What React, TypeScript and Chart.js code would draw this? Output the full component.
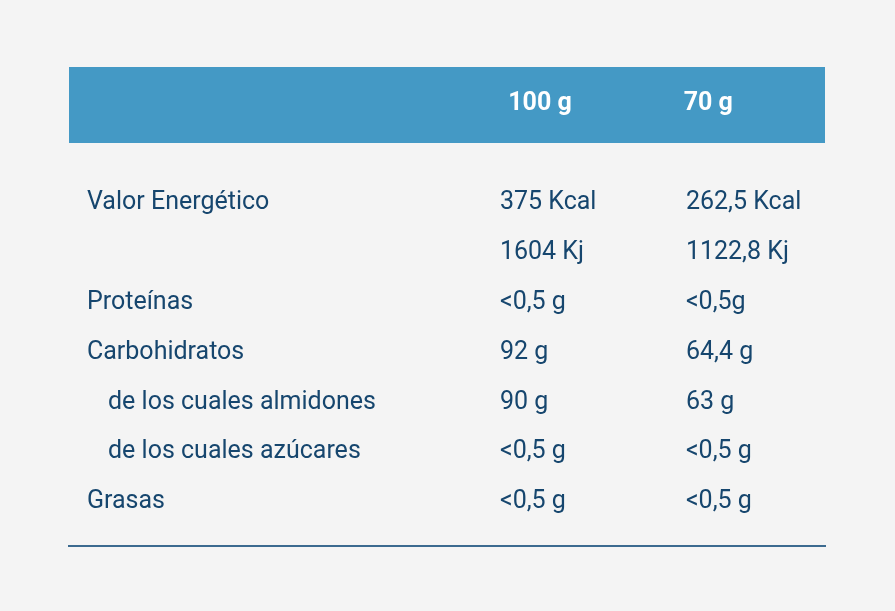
import React, { useEffect, useRef } from "react";
import { Chart, registerables } from "chart.js";

Chart.register(...registerables);

const headerLabels = ["100 g", "70 g"];
const rowLabels = [
  "Valor Energético",
  "",
  "Proteínas",
  "Carbohidratos",
  "de los cuales almidones",
  "de los cuales azúcares",
  "Grasas",
];
const rowIndent = [0, 0, 0, 0, 1, 1, 0];
const values100g = ["375 Kcal", "1604 Kj", "<0,5 g", "92 g", "90 g", "<0,5 g", "<0,5 g"];
const values70g = ["262,5 Kcal", "1122,8 Kj", "<0,5g", "64,4 g", "63 g", "<0,5 g", "<0,5 g"];

const BG = "#f4f4f4";
const HEADER_BG = "#4499c5";
const TEXT = "#16466e";
const LINE = "#3c6a8f";
const FONT = "Roboto";

const tablePlugin = {
  id: "nutritionTable",
  beforeDraw(chart: any) {
    const { ctx, width, height } = chart;
    ctx.save();
    ctx.fillStyle = BG;
    ctx.fillRect(0, 0, width, height);
    ctx.restore();
  },
  afterDraw(chart: any) {
    const { ctx, chartArea } = chart;
    const xs = chart.scales.x;
    const ys = chart.scales.y;
    const o = chart.options.plugins.nutritionTable;
    ctx.save();
    // header band
    const hTop = ys.getPixelForValue(o.headerTop);
    const hBot = ys.getPixelForValue(o.headerBottom);
    ctx.fillStyle = HEADER_BG;
    ctx.fillRect(chartArea.left, hTop, chartArea.right - chartArea.left, hBot - hTop);
    // header texts
    ctx.fillStyle = "#ffffff";
    ctx.font = `bold ${o.headerSize}px ${FONT}`;
    ctx.textBaseline = "alphabetic";
    ctx.textAlign = "left";
    headerLabels.forEach((h, i) => {
      ctx.fillText(h, xs.getPixelForValue(o.headerCols[i]), ys.getPixelForValue(o.headerRow));
    });
    // rows
    ctx.fillStyle = TEXT;
    ctx.font = `${o.bodySize}px ${FONT}`;
    rowLabels.forEach((label, i) => {
      const y = ys.getPixelForValue(i);
      if (label) {
        const x = xs.getPixelForValue(rowIndent[i] ? o.indentCol : o.labelCol);
        ctx.fillText(label, x, y);
      }
      ctx.fillText(values100g[i], xs.getPixelForValue(o.valueCols[0]), y);
      ctx.fillText(values70g[i], xs.getPixelForValue(o.valueCols[1]), y);
    });
    // bottom rule
    ctx.strokeStyle = LINE;
    ctx.lineWidth = 2;
    const yb = ys.getPixelForValue(o.ruleRow);
    ctx.beginPath();
    ctx.moveTo(chartArea.left - 1, yb);
    ctx.lineTo(chartArea.right + 1, yb);
    ctx.stroke();
    ctx.restore();
  },
};

export default function App() {
  const ref = useRef<HTMLCanvasElement>(null);
  useEffect(() => {
    document.body.style.margin = "0";
    document.body.style.background = BG;
    const chart = new Chart(ref.current!, {
      type: "scatter",
      data: { datasets: [{ data: [], showLine: false }] },
      options: {
        animation: false,
        responsive: false,
        events: [],
        layout: { padding: { left: 69, right: 70, top: 67, bottom: 65 } },
        scales: {
          x: { type: "linear", min: 0, max: 1, display: false },
          y: { type: "linear", min: -2.846, max: 6.754, reverse: true, display: false },
        },
        plugins: {
          legend: { display: false },
          tooltip: { enabled: false },
          nutritionTable: {
            headerTop: -2.846,
            headerBottom: -1.323,
            headerRow: -1.984,
            headerCols: [0.581, 0.813],
            labelCol: 0.0238,
            indentCol: 0.0516,
            valueCols: [0.570, 0.816],
            ruleRow: 6.754,
            bodySize: 25,
            headerSize: 25,
          },
        } as any,
      },
      plugins: [tablePlugin],
    });
    return () => chart.destroy();
  }, []);
  return (
    <div style={{ width: 895, height: 611, background: BG }}>
      <canvas ref={ref} width={895} height={611} style={{ display: "block" }} />
    </div>
  );
}
